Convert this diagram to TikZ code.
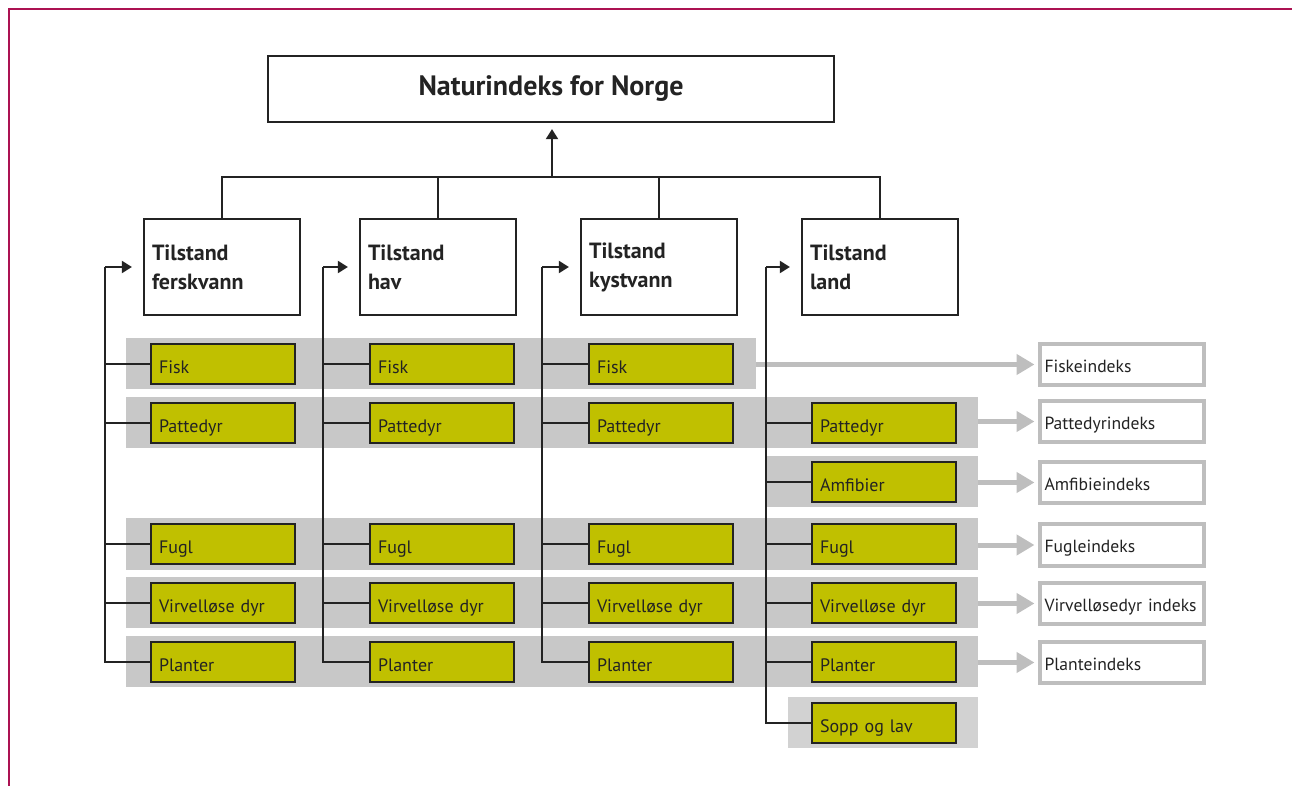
\documentclass[tikz,border=0pt]{standalone}
\usepackage{fontspec}
\setmainfont{PT Sans}
\usetikzlibrary{arrows.meta}

\definecolor{frame}{RGB}{172,18,82}
\definecolor{olive}{RGB}{192,192,0}
\definecolor{band}{RGB}{200,200,200}
\definecolor{bandlight}{RGB}{210,210,210}
\definecolor{idxgray}{RGB}{190,190,190}
\definecolor{ink}{RGB}{35,35,35}

\begin{document}
\begin{tikzpicture}[
  x=0.5pt, y=-0.5pt,
  every node/.style={font=\fontsize{9}{10}\selectfont, text=ink},
  topbox/.style={rectangle, draw=ink, line width=1.1pt, fill=white,
    minimum width=283pt, minimum height=33pt,
    font=\fontsize{14}{16}\selectfont\bfseries},
  statebox/.style={rectangle, draw=ink, line width=1.1pt, fill=white,
    text width=70pt, inner xsep=4pt, minimum height=48pt, align=left,
    font=\fontsize{11}{14.5}\selectfont\bfseries},
  groupbox/.style={rectangle, draw=ink, line width=1.25pt, fill=olive,
    text width=64pt, inner xsep=4pt, inner ysep=0pt, minimum height=20pt,
    text height=9.3pt, text depth=0pt, align=left},
  bandbar/.style={rectangle, fill=band, minimum height=25.5pt, inner sep=0pt},
  idxbox/.style={rectangle, draw=idxgray, line width=2pt, fill=white,
    text width=77pt, inner xsep=2.5pt, inner ysep=0pt, minimum height=20.5pt,
    text height=7.6pt, text depth=0pt, align=left,
    font=\fontsize{8.8}{10}\selectfont},
  feed/.style={line width=1pt, draw=ink},
  feedarrow/.style={feed, -{Triangle[length=5pt, width=6pt]}},
  idxarrow/.style={line width=2.5pt, draw=idxgray, -{Triangle[length=9pt, width=10pt]}}
]
\useasboundingbox (0,0) rectangle (1292,786);

% ====== FRAME ======
\draw[line width=1.2pt, draw=frame] (9,786) -- (9,9) -- (1292,9);

% ====== BACKGROUND BANDS ======
\node[bandbar, minimum width=315pt] (bandfisk) at (441,363.5) {};
\foreach \row/\y in {patt/422.5, fugl/544, virv/602.5, plan/661.5}
  \node[bandbar, minimum width=426pt] (band\row) at (552,\y) {};
\node[bandbar, minimum width=106pt] (bandamfi) at (872,482) {};
\node[bandbar, fill=bandlight, minimum width=95pt] (bandsopp) at (883,722.5) {};

% ====== INDEX BOXES ======
\foreach \row/\y/\txt in {fisk/364.5/Fiskeindeks, patt/421.5/Pattedyrindeks,
    amfi/482.5/Amfibieindeks, fugl/545/Fugleindeks,
    virv/603.5/Virvelløsedyr~indeks, plan/662.5/Planteindeks}{
  \node[idxbox] (idx\row) at (1121.5,\y) {\txt};
  \draw[idxarrow, shorten >=1.5pt] (band\row.east |- idx\row.west) -- (idx\row.west);
}

% ====== TOP ======
\node[topbox] (norge) at (551,89) {Naturindeks for Norge};

\foreach \c/\x/\txt in {1/222/ferskvann, 2/438/hav, 3/659/kystvann, 4/880/land}
  \node[statebox] (state\c) at (\x,267) {Tilstand\\\txt};

\coordinate (bus) at (552,177);
\draw[feed] (state1.north) |- (bus) -| (state4.north);
\draw[feed] (state2.north) -- (state2.north |- bus);
\draw[feed] (state3.north) -- (state3.north |- bus);
\draw[feedarrow, shorten >=3pt] (bus) -- (bus |- norge.south);

% ====== GROUPS ======
\foreach \c/\x in {1/223, 2/442, 3/661}{
  \foreach \row/\y/\txt in {fisk/364/Fisk, patt/423/Pattedyr, fugl/544/Fugl,
      virv/603/Virvelløse dyr, plan/662/Planter}
    \node[groupbox] (\row\c) at (\x,\y) {\txt};
}
\foreach \row/\y/\txt in {patt/423/Pattedyr, amfi/482/Amfibier, fugl/544/Fugl,
    virv/603/Virvelløse dyr, plan/662/Planter, sopp/723/Sopp og lav}
  \node[groupbox] (\row4) at (884,\y) {\txt};

% ====== FEED LINES ======
\foreach \c/\sx in {1/105, 2/323, 3/542, 4/766}{
  \coordinate (spine\c) at (\sx,267);
  \draw[feedarrow, shorten >=5.5pt] (spine\c) -- (spine\c -| state\c.west);
}
\foreach \c in {1,2,3}{
  \foreach \row in {fisk, patt, fugl, virv}
    \draw[feed] (spine\c |- \row\c.west) -- (\row\c.west);
  \draw[feed] (spine\c) |- (plan\c.west);
}
\foreach \row in {patt, amfi, fugl, virv, plan}
  \draw[feed] (spine4 |- \row4.west) -- (\row4.west);
\draw[feed] (spine4) |- (sopp4.west);

\end{tikzpicture}
\end{document}
